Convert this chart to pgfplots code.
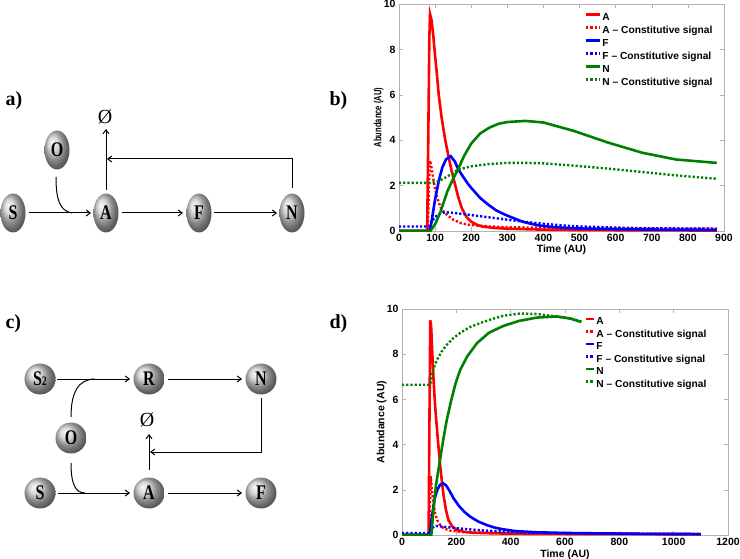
\documentclass[border=0pt]{standalone}
\usepackage{fontspec}
\setmainfont{Liberation Sans}
\newfontfamily\tms{Liberation Serif}
\usepackage{graphicx}
\usepackage{pgfplots}
\pgfplotsset{compat=1.18}
\usetikzlibrary{arrows.meta,shapes.geometric}

\definecolor{mred}{rgb}{1,0,0}
\definecolor{mblue}{rgb}{0,0,1}
\definecolor{mgreen}{rgb}{0,0.5,0}

\pgfplotsset{
  mystyle/.style={
    scale only axis,
    axis line style={gray!60, line width=0.6pt},
    tick style={gray!60, line width=0.5pt},
    tick align=inside, major tick length=4pt,
    ymin=0, ymax=10, ytick={0,2,...,10},
    /pgf/number format/assume math mode=true,
    /pgf/number format/1000 sep={},
    ticklabel style={font=\fontsize{10.5}{12}\selectfont\bfseries, text=black},
    label style={font=\fontsize{10.5}{12}\selectfont\bfseries},
    xlabel style={at={(axis description cs:0.5,0)}, anchor=north, yshift=-10pt},
    ylabel style={at={(axis description cs:0,0.5)}, anchor=south, yshift=12pt},
    legend cell align=left,
    legend style={draw=none, fill=white, inner sep=0pt, outer sep=0pt,
      anchor=north west,
      font=\fontsize{10.2}{11}\selectfont\bfseries,
      nodes={inner sep=1pt, text height=7.5pt, text depth=2.5pt},
      row sep=0.5pt},
  },
  sol/.style={line width=2.6pt},
  dot/.style={line width=2.4pt, dash pattern=on 2.2pt off 2pt},
}

\tikzset{
  arr/.style={line width=1pt, -{Straight Barb[length=4pt,width=6pt]}},
  ln/.style={line width=1pt},
  ballA/.style={ellipse, minimum width=25pt, minimum height=39pt, inner sep=0pt, ball color=gray!40},
  ballC/.style={circle, minimum size=31pt, inner sep=0pt, ball color=gray!40},
  lt/.style={font=\tms\bfseries\fontsize{16}{16}\selectfont},
  pl/.style={font=\tms\bfseries\fontsize{20}{20}\selectfont, anchor=west},
}
\newcommand{\lab}[1]{\scalebox{1}[1.3]{#1}}

\begin{document}
\begin{tikzpicture}[x=1pt,y=1pt]
\path[use as bounding box] (0,0) rectangle (740,558);

% ---------------- panel labels
\node[pl] at (2,457) {a)};
\node[pl] at (326,457) {b)};
\node[pl] at (2,234) {c)};
\node[pl] at (326,234) {d)};

% ---------------- diagram a
\node[ballA, lt] at (13,345) {\lab{S}};
\node[ballA, lt] at (57,408) {\lab{O}};
\node[ballA, lt] at (106,345) {\lab{A}};
\node[ballA, lt] at (199,345) {\lab{F}};
\node[ballA, lt] at (292,345) {\lab{N}};
\node[font=\tms\fontsize{20}{20}\selectfont] at (105,441) {Ø};
\draw[arr] (29,345) -- (91,345);
\draw[arr] (122,345) -- (183,345);
\draw[arr] (214,345) -- (277,345);
\draw[ln] (56,381) .. controls (56,358) and (60,347) .. (72,345);
\draw[arr] (106,368) -- (106,429);
\draw[arr] (292,370) -- (292,399) -- (107,399);

% ---------------- diagram c
\node[ballC, lt] at (40,179) {\lab{S{\fontsize{10}{10}\selectfont 2}}};
\node[ballC, lt] at (149,179) {\lab{R}};
\node[ballC, lt] at (261,179) {\lab{N}};
\node[ballC, lt] at (71,120) {\lab{O}};
\node[ballC, lt] at (40,65) {\lab{S}};
\node[ballC, lt] at (149,65) {\lab{A}};
\node[ballC, lt] at (261,65) {\lab{F}};
\node[font=\tms\fontsize{20}{20}\selectfont] at (147,138) {Ø};
\draw[arr] (57,179) -- (130,179);
\draw[arr] (168,179) -- (242,179);
\draw[arr] (58,65) -- (130,65);
\draw[arr] (168,65) -- (242,65);
\draw[ln] (71,141) .. controls (71,165) and (78,179) .. (95,179);
\draw[ln] (71,95) .. controls (71,75) and (75,65) .. (85,65);
\draw[arr] (149,88) -- (149,124);
\draw[arr] (261,160) -- (261,106) -- (150,106);

% ---------------- plot b
\begin{axis}[mystyle, at={(399pt,327pt)}, anchor=south west,
  width=325pt, height=227pt,
  xmin=0, xmax=900, xtick={0,100,...,900},
  xlabel={Time (AU)}, ylabel={\scalebox{0.72}[1]{Abundance (AU)}},
  legend style={at={(0.572,0.965)}, row sep=1pt},
  legend image code/.code={\draw[#1] (0pt,3.5pt) -- (14pt,3.5pt);}]
\addplot[mred, sol] coordinates {(0,0)(78,0)(81,4)(84,8.5)(86,9.55)(90,9.3)(95,8.6)(100,7.7)(105,6.9)(110,6.0)(118,5.0)(127,4.1)(136,3.37)(145,2.7)(153,2.19)(163,1.55)(174,1.0)(187,0.62)(200,0.41)(215,0.28)(230,0.2)(260,0.14)(300,0.1)(400,0.06)(500,0.04)(700,0.03)(880,0.02)};
\addlegendentry{A}
\addplot[mred, dot] coordinates {(0,0)(80,0)(83,2.0)(86,3.1)(90,2.8)(95,2.3)(100,1.85)(106,1.45)(115,1.05)(125,0.82)(134,0.7)(150,0.5)(172,0.34)(200,0.26)(250,0.2)(300,0.17)(400,0.14)(600,0.12)(880,0.1)};
\addlegendentry{A -- Constitutive signal}
\addplot[mblue, sol] coordinates {(0,0)(85,0)(90,0.4)(100,1.4)(110,2.2)(120,2.8)(130,3.15)(143,3.3)(155,3.05)(163,2.75)(175,2.45)(190,2.1)(200,1.9)(225,1.45)(248,1.15)(270,0.9)(295,0.71)(320,0.55)(342,0.41)(365,0.32)(389,0.24)(430,0.17)(484,0.12)(550,0.09)(650,0.07)(750,0.06)(880,0.05)};
\addlegendentry{F}
\addplot[mblue, dot] coordinates {(0,0.2)(85,0.2)(90,0.4)(100,0.62)(115,0.78)(130,0.83)(150,0.8)(200,0.7)(250,0.6)(300,0.5)(350,0.4)(400,0.32)(450,0.25)(500,0.2)(600,0.15)(700,0.12)(880,0.1)};
\addlegendentry{F -- Constitutive signal}
\addplot[mgreen, sol] coordinates {(0,0)(87,0)(100,0.3)(115,0.85)(134,1.75)(150,2.3)(163,2.7)(180,3.3)(200,3.85)(225,4.3)(250,4.55)(275,4.72)(300,4.8)(350,4.85)(400,4.78)(484,4.41)(578,3.9)(673,3.45)(767,3.15)(880,3.0)};
\addlegendentry{N}
\addplot[mgreen, dot] coordinates {(0,2.12)(90,2.12)(110,2.2)(134,2.4)(163,2.7)(200,2.85)(250,2.95)(300,3.0)(350,3.0)(400,2.98)(484,2.88)(578,2.75)(673,2.6)(767,2.45)(880,2.3)};
\addlegendentry{N -- Constitutive signal}
\end{axis}

% ---------------- plot d
\begin{axis}[mystyle, at={(402pt,23pt)}, anchor=south west,
  width=326pt, height=226pt,
  xmin=0, xmax=1200, xtick={0,200,...,1200},
  xlabel={Time (AU)}, ylabel={Abundance (AU)},
  xlabel style={yshift=-1pt},
  legend style={at={(0.561,0.967)}},
  legend image code/.code={\draw[#1] (0pt,3.5pt) -- (8pt,3.5pt);}]
\addplot[mred, sol] coordinates {(0,0)(98,0)(101,5)(104,9.5)(107,9.3)(111,8.2)(116,6.9)(122,5.7)(129,4.65)(135,3.8)(141,3.03)(147,2.35)(153,1.75)(162,1.1)(171,0.66)(185,0.38)(202,0.22)(230,0.14)(260,0.1)(350,0.07)(500,0.05)(800,0.04)(1100,0.03)};
\addlegendentry{A}
\addplot[mred, dot] coordinates {(0,0)(100,0)(103,1.5)(106,2.6)(110,2.0)(115,1.5)(122,0.96)(130,0.65)(140,0.45)(153,0.3)(175,0.2)(220,0.13)(300,0.1)(500,0.07)(1100,0.05)};
\addlegendentry{A -- Constitutive signal}
\addplot[mblue, sol] coordinates {(0,0)(103,0)(110,0.8)(120,1.6)(130,2.0)(140,2.22)(151,2.29)(162,2.2)(175,1.95)(190,1.62)(210,1.28)(230,1.02)(251,0.81)(280,0.6)(312,0.44)(340,0.33)(373,0.25)(420,0.17)(496,0.12)(600,0.09)(741,0.07)(900,0.05)(1100,0.04)};
\addlegendentry{F}
\addplot[mblue, dot] coordinates {(0,0.08)(103,0.08)(110,0.28)(118,0.38)(126,0.4)(150,0.37)(200,0.3)(250,0.25)(300,0.2)(400,0.13)(500,0.1)(600,0.08)(800,0.06)(1100,0.04)};
\addlegendentry{F -- Constitutive signal}
\addplot[mgreen, sol] coordinates {(0,0)(108,0)(115,1.0)(125,2.2)(141,3.4)(153,4.3)(165,5.1)(180,5.9)(197,6.7)(214,7.3)(240,7.9)(276,8.49)(320,8.95)(373,9.25)(430,9.47)(496,9.62)(569,9.67)(620,9.58)(660,9.42)};
\addlegendentry{N}
\addplot[mgreen, dot] coordinates {(0,6.65)(104,6.65)(110,7.1)(120,7.5)(129,7.75)(145,8.1)(165,8.42)(190,8.72)(214,8.94)(250,9.2)(288,9.38)(330,9.55)(373,9.7)(435,9.8)(496,9.78)(569,9.67)(620,9.57)(660,9.45)};
\addlegendentry{N -- Constitutive signal}
\end{axis}
\end{tikzpicture}
\end{document}
